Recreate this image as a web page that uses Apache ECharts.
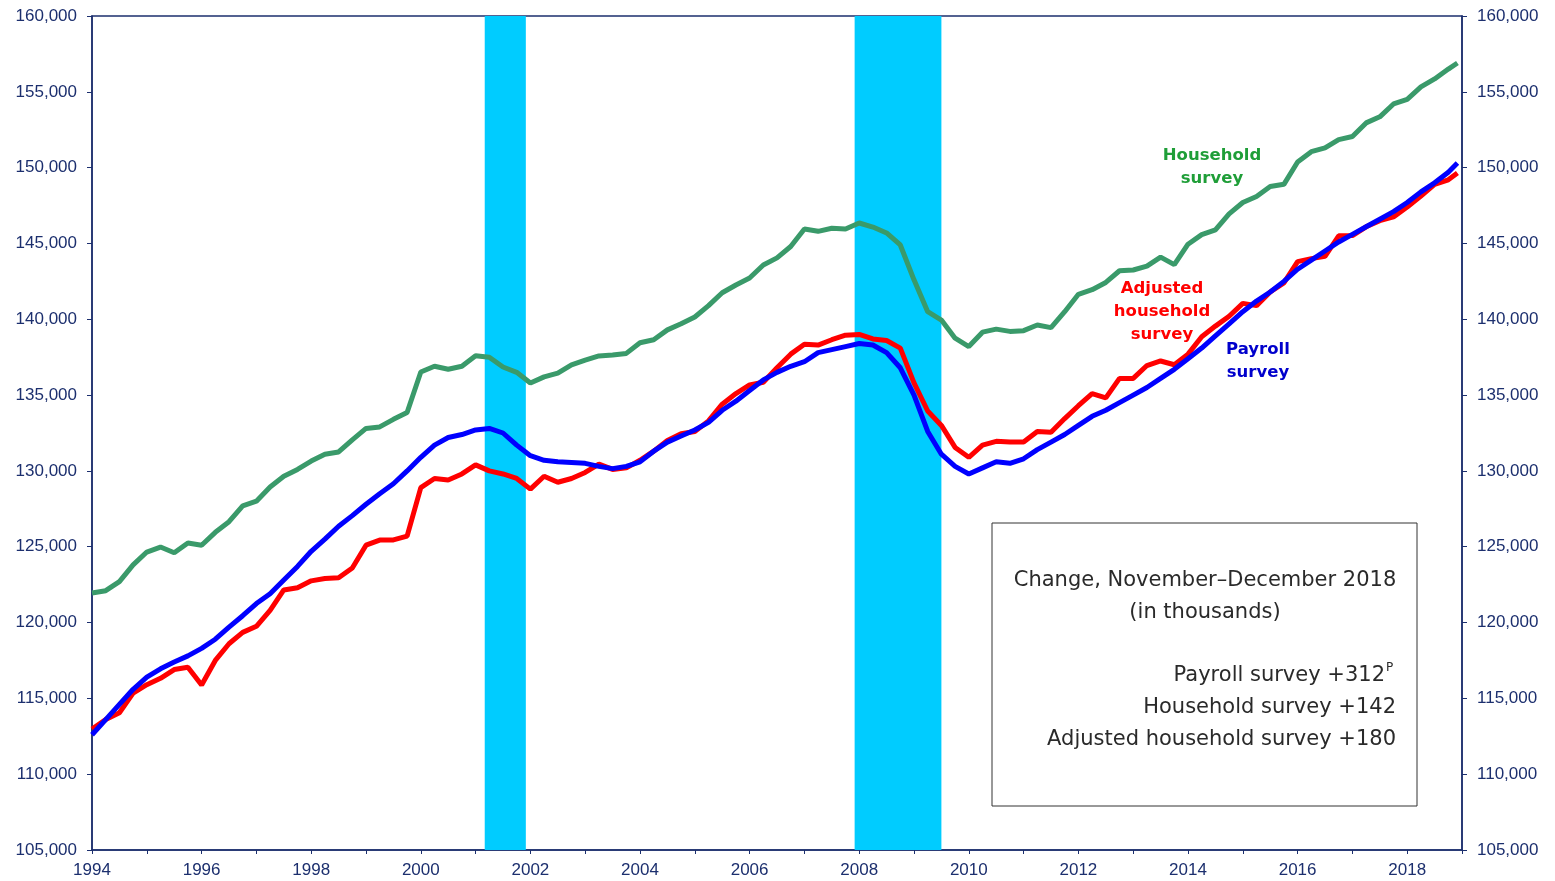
<!DOCTYPE html>
<html>
<head>
<meta charset="utf-8">
<script src="https://cdn.jsdelivr.net/npm/echarts@6/dist/echarts.min.js"></script>
<style>
  html, body { margin: 0; padding: 0; background: #fff; }
  #chart { width: 1555px; height: 881px; }
</style>
</head>
<body>
<div id="chart"></div>
<script>
// quarterly months (Jan, Apr, Jul, Oct) 1994-2018 plus Dec 2018
const months = [];
for (let y = 1994; y <= 2018; y++) {
  ['01', '04', '07', '10'].forEach(m => months.push(y + '-' + m));
}
months.push('2018-12');

// employment, thousands
const payroll = [
  112600, 113600, 114600, 115600,
  116400, 116950, 117400, 117800,
  118300, 118900, 119700, 120450,
  121250, 121900, 122800, 123700,
  124700, 125500, 126350, 127050,
  127800, 128500, 129150, 130000,
  130900, 131700, 132200, 132400,
  132700, 132800, 132500, 131700,
  131000, 130700, 130600, 130550,
  130500, 130300, 130150, 130300,
  130600, 131300, 131900, 132300,
  132700, 133200, 134000, 134600,
  135300, 136000, 136500, 136900,
  137200, 137800, 138000, 138200,
  138400, 138300, 137800, 136800,
  135000, 132600, 131100, 130300,
  129800, 130200, 130600, 130500,
  130800, 131400, 131900, 132400,
  133000, 133600, 134000, 134500,
  135000, 135500, 136100, 136700,
  137400, 138100, 138900, 139700,
  140500, 141200, 141800, 142500,
  143300, 143900, 144500, 145100,
  145600, 146100, 146600, 147100,
  147700, 148400, 149000, 149700,
  150300
];
const household = [
  121950, 122100, 122700, 123800,
  124650, 124980, 124600, 125250,
  125100, 125950, 126650, 127700,
  128000, 128940, 129650, 130100,
  130650, 131100, 131250, 132050,
  132800, 132900, 133400, 133850,
  136520, 136900, 136700, 136900,
  137600, 137500, 136850, 136500,
  135800, 136200, 136450, 137000,
  137300, 137580, 137650, 137750,
  138450, 138650, 139300, 139700,
  140150, 140900, 141750, 142260,
  142720, 143580, 144050, 144800,
  145950, 145800, 146000, 145950,
  146350, 146080, 145690, 144900,
  142600, 140500, 139950, 138750,
  138200, 139150, 139350, 139200,
  139250, 139620, 139450, 140500,
  141650, 141950, 142430, 143200,
  143250, 143500, 144100, 143600,
  144950, 145580, 145900, 146950,
  147700, 148100, 148750, 148900,
  150370, 151050, 151300, 151850,
  152050, 152950, 153350, 154200,
  154500, 155320, 155850, 156500,
  156900
];
const adjusted = [
  112980, 113600, 114050, 115350,
  115900, 116320, 116900, 117050,
  115880, 117500, 118600, 119350,
  119750, 120800, 122150, 122300,
  122750, 122900, 122950, 123600,
  125100, 125440, 125450, 125700,
  128900, 129500, 129400, 129800,
  130400, 130000, 129800, 129500,
  128800, 129650, 129250, 129500,
  129900, 130450, 130100, 130200,
  130700, 131300, 132000, 132450,
  132600, 133300, 134400, 135100,
  135670, 135850, 136800, 137700,
  138350, 138300, 138650, 138950,
  139000, 138700, 138600, 138100,
  135800, 133950, 133000, 131550,
  130900, 131700, 131950, 131900,
  131900, 132600, 132550, 133450,
  134300, 135100, 134820, 136100,
  136100, 136950, 137250, 137000,
  137700, 138850, 139550, 140200,
  141050, 140900, 141800, 142400,
  143800, 144000, 144150, 145500,
  145520, 146100, 146500, 146750,
  147400, 148130, 148900, 149200,
  149650
];

// recessions, first and last month
const recessions = [['2001-03', '2001-11'], ['2007-12', '2009-06']];

const boxLines = ['Change, November\u2013December 2018', '(in thousands)'];
const changes = [
  ['Payroll survey +312', 'P'],
  ['Household survey +142', ''],
  ['Adjusted household survey +180', '']
];

function toYear(s) {
  const p = s.split('-');
  return +p[0] + (+p[1] - 1) / 12;
}
function pairs(vals) {
  return vals.map((v, i) => [toYear(months[i]), v]);
}

const navy = '#1c2f6e';
const myChart = echarts.init(document.getElementById('chart'));

const yAxisBase = {
  type: 'value',
  min: 105000,
  max: 160000,
  interval: 5000,
  axisLine: { show: true, lineStyle: { color: navy, width: 1.5 } },
  axisTick: { show: true, length: 5, lineStyle: { color: navy } },
  splitLine: { show: false },
  axisLabel: {
    color: navy, fontSize: 17, fontFamily: 'Liberation Sans, Arial', margin: 15,
    formatter: v => v.toLocaleString('en-US')
  }
};

const textFont = 'DejaVu Sans';
const boxText = { fontSize: 21, fontFamily: textFont, fill: '#2a2a2a', verticalAlign: 'middle' };
const graphics = [
  {
    type: 'rect', z: 100,
    shape: { x: 992, y: 523, width: 425, height: 283 },
    style: { fill: '#fff', stroke: '#333', lineWidth: 1 }
  },
  {
    type: 'text', x: 1205, y: 581, z: 101,
    style: Object.assign({ text: boxLines[0], align: 'center' }, boxText)
  },
  {
    type: 'text', x: 1205, y: 613, z: 101,
    style: Object.assign({ text: boxLines[1], align: 'center' }, boxText)
  },
  {
    type: 'text', x: 1385, y: 676, z: 101,
    style: Object.assign({ text: changes[0][0], align: 'right' }, boxText)
  },
  {
    type: 'text', x: 1386, y: 674, z: 101,
    style: { text: changes[0][1], fontSize: 12, fontFamily: textFont, fill: '#2a2a2a', align: 'left', verticalAlign: 'bottom' }
  },
  {
    type: 'text', x: 1396, y: 708, z: 101,
    style: Object.assign({ text: changes[1][0], align: 'right' }, boxText)
  },
  {
    type: 'text', x: 1396, y: 740, z: 101,
    style: Object.assign({ text: changes[2][0], align: 'right' }, boxText)
  },
  {
    type: 'text', x: 1212, y: 167, z: 101,
    style: { text: 'Household\nsurvey', fontSize: 16.5, fontWeight: 'bold', fontFamily: textFont, fill: '#1f9e38', align: 'center', verticalAlign: 'middle', lineHeight: 23 }
  },
  {
    type: 'text', x: 1162, y: 312, z: 101,
    style: { text: 'Adjusted\nhousehold\nsurvey', fontSize: 16.5, fontWeight: 'bold', fontFamily: textFont, fill: '#ff0000', align: 'center', verticalAlign: 'middle', lineHeight: 23 }
  },
  {
    type: 'text', x: 1258, y: 361, z: 101,
    style: { text: 'Payroll\nsurvey', fontSize: 16.5, fontWeight: 'bold', fontFamily: textFont, fill: '#0000cc', align: 'center', verticalAlign: 'middle', lineHeight: 23 }
  }
];

const option = {
  animation: false,
  backgroundColor: '#fff',
  grid: { left: 92, right: 93, top: 16, bottom: 31, show: true, borderColor: navy, borderWidth: 1.5 },
  xAxis: {
    type: 'value',
    min: 1994,
    max: 2019,
    interval: 1,
    axisLine: { lineStyle: { color: navy, width: 1.5 } },
    axisTick: { length: 4, lineStyle: { color: navy } },
    splitLine: { show: false },
    axisLabel: {
      color: navy, fontSize: 17, fontFamily: 'Liberation Sans, Arial', margin: 12,
      formatter: v => (v % 2 === 0 && v < 2019) ? String(v) : ''
    }
  },
  yAxis: [
    Object.assign({}, yAxisBase, { position: 'left' }),
    Object.assign({}, yAxisBase, { position: 'right' })
  ],
  series: [
    {
      type: 'line', data: [], z: 1, silent: true,
      markArea: {
        silent: true,
        itemStyle: { color: '#00ccff', opacity: 1 },
        data: recessions.map(r => [{ xAxis: toYear(r[0]) }, { xAxis: toYear(r[1]) + 1 / 12 }])
      }
    },
    {
      name: 'Household survey', type: 'line', data: pairs(household), z: 3,
      showSymbol: false, lineStyle: { color: '#3a9a6a', width: 5 }, itemStyle: { color: '#3a9a6a' }
    },
    {
      name: 'Adjusted household survey', type: 'line', data: pairs(adjusted), z: 4,
      showSymbol: false, lineStyle: { color: '#ff0000', width: 5 }, itemStyle: { color: '#ff0000' }
    },
    {
      name: 'Payroll survey', type: 'line', data: pairs(payroll), z: 5,
      showSymbol: false, lineStyle: { color: '#0000ff', width: 5 }, itemStyle: { color: '#0000ff' }
    }
  ],
  graphic: graphics
};
myChart.setOption(option);
</script>
</body>
</html>
